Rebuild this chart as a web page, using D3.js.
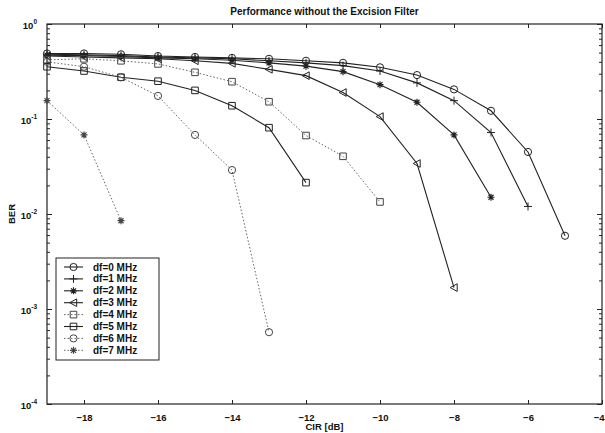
<!DOCTYPE html>
<html>
<head>
<meta charset="utf-8">
<script src="https://cdn.jsdelivr.net/npm/d3@7"></script>
<style>
  body { margin: 0; background: #fff; }
  text { font-family: "Liberation Sans", Arial, sans-serif; font-weight: bold; fill: #111; }
</style>
</head>
<body>
<div id="container"></div>
<script>
// CIR values, one list per curve, and BER
const labels = ['df=0 MHz', 'df=1 MHz', 'df=2 MHz', 'df=3 MHz', 'df=4 MHz', 'df=5 MHz', 'df=6 MHz', 'df=7 MHz']
const markers = ['o', '+', '*', '<', 's', 's', 'o', '*']
const dotted = [false, false, false, false, true, false, true, true]

const cir0 = [-19, -18, -17, -16, -15, -14, -13, -12, -11, -10, -9, -8, -7, -6, -5]
const ber0 = [0.49, 0.49, 0.48, 0.46, 0.45, 0.44, 0.43, 0.41, 0.39, 0.35, 0.29, 0.205, 0.122, 0.045, 0.0059]
const cir1 = [-19, -18, -17, -16, -15, -14, -13, -12, -11, -10, -9, -8, -7, -6]
const ber1 = [0.48, 0.475, 0.465, 0.45, 0.44, 0.43, 0.41, 0.39, 0.365, 0.32, 0.24, 0.156, 0.072, 0.012]
const cir2 = [-19, -18, -17, -16, -15, -14, -13, -12, -11, -10, -9, -8, -7]
const ber2 = [0.47, 0.465, 0.455, 0.44, 0.43, 0.415, 0.39, 0.36, 0.315, 0.23, 0.15, 0.068, 0.015]
const cir3 = [-19, -18, -17, -16, -15, -14, -13, -12, -11, -10, -9, -8]
const ber3 = [0.46, 0.45, 0.44, 0.43, 0.41, 0.385, 0.333, 0.286, 0.19, 0.106, 0.034, 0.00168]
const cir4 = [-19, -18, -17, -16, -15, -14, -13, -12, -11, -10]
const ber4 = [0.42, 0.43, 0.41, 0.38, 0.31, 0.247, 0.152, 0.067, 0.0405, 0.0134]
const cir5 = [-19, -18, -17, -16, -15, -14, -13, -12]
const ber5 = [0.355, 0.32, 0.275, 0.25, 0.2, 0.138, 0.081, 0.0214]
const cir6 = [-19, -18, -17, -16, -15, -14, -13]
const ber6 = [0.40, 0.355, 0.275, 0.175, 0.068, 0.029, 0.00057]
const cir7 = [-19, -18, -17]
const ber7 = [0.156, 0.068, 0.0085]

const cirs = [cir0, cir1, cir2, cir3, cir4, cir5, cir6, cir7]
const bers = [ber0, ber1, ber2, ber3, ber4, ber5, ber6, ber7]

const xTicks = [-18, -16, -14, -12, -10, -8, -6, -4]
const yTicks = [1, 0.1, 0.01, 0.001, 0.0001]
const yTickExp = ['0', '-1', '-2', '-3', '-4']

const width = 605
const height = 433
const margin = { top: 24, right: 3, bottom: 29, left: 47 }

const svg = d3.select('#container')
    .append('svg')
    .attr('width', width)
    .attr('height', height)

const xScale = d3.scaleLinear()
    .domain([-19, -4])
    .range([margin.left, width - margin.right])
const yScale = d3.scaleLog()
    .domain([1e-4, 1])
    .range([height - margin.bottom, margin.top])

const plotW = width - margin.left - margin.right
const plotH = height - margin.top - margin.bottom

// minor log ticks for the side axes
const minor = []
for (let e = -4; e < 0; e++) {
    for (let m = 2; m <= 9; m++) minor.push(m * Math.pow(10, e))
}

const styleAxis = g => {
    g.select('.domain').remove()
    g.selectAll('line').attr('stroke', '#222').attr('stroke-width', 1)
}

// bottom axis, ticks pointing in
svg.append('g')
    .attr('transform', `translate(0, ${height - margin.bottom})`)
    .call(d3.axisBottom(xScale).tickValues(xTicks).tickSizeInner(-4).tickSizeOuter(0).tickPadding(10))
    .call(styleAxis)
    .call(g => g.selectAll('text').attr('font-size', 9.5).attr('fill', '#111'))
    .call(g => g.selectAll('.tick').filter(d => d === -4).select('text')
        .attr('text-anchor', 'end').attr('dx', 2))

// top axis
svg.append('g')
    .attr('transform', `translate(0, ${margin.top})`)
    .call(d3.axisTop(xScale).tickValues(xTicks).tickSizeInner(-4).tickSizeOuter(0).tickFormat(''))
    .call(styleAxis)

// left axis with 10^n labels
const yAxisG = svg.append('g')
    .attr('transform', `translate(${margin.left}, 0)`)
    .call(d3.axisLeft(yScale).tickValues(yTicks).tickSizeInner(-5).tickSizeOuter(0).tickFormat(''))
    .call(styleAxis)

yAxisG.selectAll('.tick').append('text')
    .attr('x', -10)
    .attr('y', 4)
    .attr('text-anchor', 'end')
    .attr('font-size', 9.5)
    .each(function (d, i) {
        const t = d3.select(this)
        t.append('tspan').text('10')
        t.append('tspan').attr('dy', -5).attr('font-size', 6.5).text(yTickExp[i])
    })

svg.append('g')
    .attr('transform', `translate(${margin.left}, 0)`)
    .call(d3.axisLeft(yScale).tickValues(minor).tickSizeInner(-3).tickSizeOuter(0).tickFormat(''))
    .call(styleAxis)

// right axis
svg.append('g')
    .attr('transform', `translate(${width - margin.right}, 0)`)
    .call(d3.axisRight(yScale).tickValues(yTicks).tickSizeInner(-5).tickSizeOuter(0).tickFormat(''))
    .call(styleAxis)
svg.append('g')
    .attr('transform', `translate(${width - margin.right}, 0)`)
    .call(d3.axisRight(yScale).tickValues(minor).tickSizeInner(-3).tickSizeOuter(0).tickFormat(''))
    .call(styleAxis)

// frame
svg.append('rect')
    .attr('x', margin.left)
    .attr('y', margin.top)
    .attr('width', plotW)
    .attr('height', plotH)
    .attr('fill', 'none')
    .attr('stroke', '#222')
    .attr('stroke-width', 1.2)

// marker shapes
const markerPath = m => {
    if (m === 'o') return 'M3.6,0A3.6,3.6 0 1,1 -3.6,0A3.6,3.6 0 1,1 3.6,0Z'
    if (m === '+') return 'M-4,0H4M0,-4V4'
    if (m === '*') return 'M-3.5,0H3.5M0,-3.5V3.5M-2.5,-2.5L2.5,2.5M-2.5,2.5L2.5,-2.5'
    if (m === '<') return 'M-3.8,0L3.2,-3.8L3.2,3.8Z'
    return 'M-3.3,-3.3H3.3V3.3H-3.3Z'
}

const line = d3.line()
    .x(d => xScale(d[0]))
    .y(d => yScale(d[1]))

const plot = svg.append('g')

cirs.forEach((cir, i) => {
    const pts = cir.map((c, j) => [c, bers[i][j]])
    const color = dotted[i] ? '#666' : '#222'
    plot.append('path')
        .datum(pts)
        .attr('d', line)
        .attr('fill', 'none')
        .attr('stroke', color)
        .attr('stroke-width', dotted[i] ? 1 : 1.1)
        .attr('stroke-dasharray', dotted[i] ? '1.5,2' : null)

    plot.selectAll(null).data(pts)
        .join('path')
        .attr('transform', d => `translate(${xScale(d[0])}, ${yScale(d[1])})`)
        .attr('d', markerPath(markers[i]))
        .attr('fill', 'none')
        .attr('stroke', dotted[i] ? '#444' : '#222')
        .attr('stroke-width', markers[i] === '*' ? 1.2 : 1)
})

// title and axis labels
svg.append('text')
    .attr('x', (margin.left + width - margin.right) / 2)
    .attr('y', 15)
    .attr('text-anchor', 'middle')
    .attr('font-size', 10)
    .text('Performance without the Excision Filter')

svg.append('text')
    .attr('x', (margin.left + width - margin.right) / 2)
    .attr('y', 430)
    .attr('text-anchor', 'middle')
    .attr('font-size', 9.5)
    .text('CIR [dB]')

svg.append('text')
    .attr('transform', `translate(15, ${(margin.top + height - margin.bottom) / 2}) rotate(-90)`)
    .attr('text-anchor', 'middle')
    .attr('font-size', 9.5)
    .text('BER')

// legend
const legend = svg.append('g')
    .attr('transform', 'translate(56, 258)')

legend.append('rect')
    .attr('width', 103)
    .attr('height', 102)
    .attr('fill', '#fff')
    .attr('stroke', '#222')
    .attr('stroke-width', 1)

labels.forEach((lab, i) => {
    const row = legend.append('g')
        .attr('transform', `translate(0, ${9 + i * 11.9})`)
    row.append('line')
        .attr('x1', 8).attr('x2', 27)
        .attr('stroke', dotted[i] ? '#666' : '#222')
        .attr('stroke-width', dotted[i] ? 1 : 1.1)
        .attr('stroke-dasharray', dotted[i] ? '1.5,2' : null)
    row.append('path')
        .attr('transform', 'translate(17.5, 0)')
        .attr('d', markerPath(markers[i]))
        .attr('fill', 'none')
        .attr('stroke', dotted[i] ? '#444' : '#222')
        .attr('stroke-width', markers[i] === '*' ? 1.2 : 1)
    row.append('text')
        .attr('x', 37)
        .attr('y', 3.5)
        .attr('font-size', 10)
        .text(lab)
})
</script>
</body>
</html>
